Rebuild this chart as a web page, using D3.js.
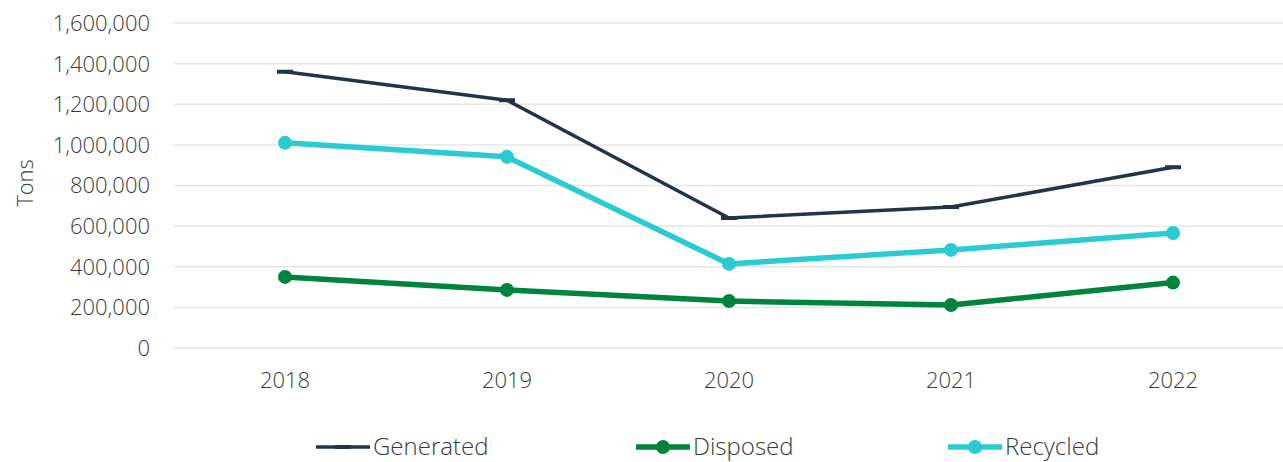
<!DOCTYPE html>
<html>
<head>
<meta charset="utf-8">
<script src="https://cdn.jsdelivr.net/npm/d3@7"></script>
<style>
  body { margin: 0; background: #fff; }
  text { font-family: "Open Sans", Lato, sans-serif; font-weight: 300; fill: #3a3a3a; }
</style>
</head>
<body>
<div id="chart"></div>
<script>
var years = ["2018", "2019", "2020", "2021", "2022"];
var generated = [1360000, 1220000, 640000, 694000, 890000];
var disposed = [350000, 286000, 231000, 212000, 322000];
var recycled = [1010000, 941000, 414000, 483000, 566000];
var yTicks = [0, 200000, 400000, 600000, 800000, 1000000, 1200000, 1400000, 1600000];

var series = [
  {name: "Generated", values: generated, color: "#243447", width: 3.5, marker: "dash"},
  {name: "Disposed", values: disposed, color: "#00843d", width: 5.5, marker: "dot"},
  {name: "Recycled", values: recycled, color: "#2acbd3", width: 5.5, marker: "dot"}
];

var width = 1283, height = 462;
var margin = {top: 23, right: 0, bottom: 114, left: 174};

var svg = d3.select("#chart")
    .append("svg")
    .attr("width", width)
    .attr("height", height);

var x = d3.scalePoint()
    .domain(years)
    .range([margin.left, width - margin.right + 1])
    .padding(0.5);

var y = d3.scaleLinear()
    .domain([0, 1600000])
    .range([height - margin.bottom, margin.top]);

// gridlines
svg.append("g")
    .selectAll("line")
    .data(yTicks)
    .enter().append("line")
    .attr("x1", margin.left)
    .attr("x2", width)
    .attr("y1", function(d) { return y(d); })
    .attr("y2", function(d) { return y(d); })
    .attr("stroke", "#e6e6e6")
    .attr("stroke-width", 1.5);

// y axis labels
svg.append("g")
    .selectAll("text")
    .data(yTicks)
    .enter().append("text")
    .attr("x", 150)
    .attr("y", function(d) { return y(d); })
    .attr("dy", "0.36em")
    .attr("text-anchor", "end")
    .style("font-size", "22px")
    .text(function(d) { return d3.format(",")(d); });

// x axis labels
svg.append("g")
    .selectAll("text")
    .data(years)
    .enter().append("text")
    .attr("x", function(d) { return x(d); })
    .attr("y", 388)
    .attr("text-anchor", "middle")
    .style("font-size", "22px")
    .text(function(d) { return d; });

svg.append("text")
    .attr("transform", "translate(33,183) rotate(-90)")
    .attr("text-anchor", "middle")
    .style("font-size", "22px")
    .text("Tons");

var line = d3.line()
    .x(function(d, i) { return x(years[i]); })
    .y(function(d) { return y(d); });

series.forEach(function(s) {
  var g = svg.append("g");
  g.append("path")
      .datum(s.values)
      .attr("d", line)
      .attr("fill", "none")
      .attr("stroke", s.color)
      .attr("stroke-width", s.width)
      .attr("stroke-linejoin", "round");
  if (s.marker == "dot") {
    g.selectAll("circle")
        .data(s.values)
        .enter().append("circle")
        .attr("cx", function(d, i) { return x(years[i]); })
        .attr("cy", function(d) { return y(d); })
        .attr("r", 7)
        .attr("fill", s.color);
  } else {
    g.selectAll("rect")
        .data(s.values)
        .enter().append("rect")
        .attr("x", function(d, i) { return x(years[i]) - 8; })
        .attr("y", function(d) { return y(d) - 2; })
        .attr("width", 16)
        .attr("height", 4)
        .attr("fill", s.color);
  }
});

// legend
var legendX = [316, 636, 948];
var legend = svg.append("g")
    .selectAll("g")
    .data(series)
    .enter().append("g")
    .attr("transform", function(d, i) { return "translate(" + legendX[i] + ",447)"; });

legend.append("line")
    .attr("x1", 0).attr("x2", 54)
    .attr("stroke", function(d) { return d.color; })
    .attr("stroke-width", function(d) { return d.width; });

legend.filter(function(d) { return d.marker == "dot"; })
    .append("circle")
    .attr("cx", 27).attr("r", 7)
    .attr("fill", function(d) { return d.color; });

legend.filter(function(d) { return d.marker == "dash"; })
    .append("rect")
    .attr("x", 19).attr("y", -2).attr("width", 16).attr("height", 4)
    .attr("fill", function(d) { return d.color; });

legend.append("text")
    .attr("x", 57)
    .attr("y", 8)
    .style("font-size", "24px")
    .text(function(d) { return d.name; });
</script>
</body>
</html>
